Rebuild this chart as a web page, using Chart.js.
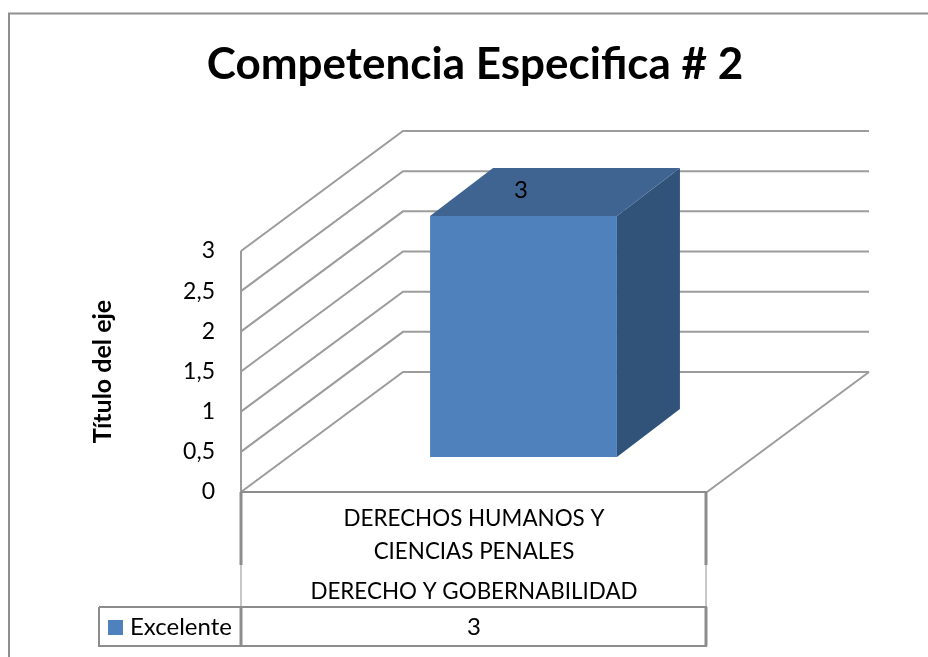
<!DOCTYPE html>
<html lang="es">
<head>
    <meta charset="UTF-8" />
    <title>Competencia Especifica # 2</title>
    <script src="https://cdn.jsdelivr.net/npm/chart.js"></script>
    <style>
        html, body { margin: 0; padding: 0; background: #fff; overflow: hidden; }
        #wrap { width: 928px; height: 657px; }
    </style>
</head>
<body>
<div id="wrap"><canvas id="chart" width="928" height="657"></canvas></div>
<script>
    // datos
    const chartTitle = 'Competencia Especifica # 2';
    const axisTitle = 'Título del eje';
    const categories = [['DERECHOS HUMANOS Y', 'CIENCIAS PENALES']];
    const groupLabels = ['DERECHO Y GOBERNABILIDAD'];
    const seriesName = 'Excelente';
    const excelente = [3];

    const FONT = 'Lato, Carlito, Calibri, sans-serif';
    const LINE = '#9c9c9c';
    const TABLE = '#8c8c8c';

    // profundidad del piso y de la barra en 3D
    const floorDepth = { x: 162, y: -120 };
    const barShift = { x: 49.5, y: -35 };
    const barDepth = { x: 63, y: -48 };

    function strokeLine(ctx, pts, color, width) {
        ctx.beginPath();
        pts.forEach((p, i) => i ? ctx.lineTo(p[0], p[1]) : ctx.moveTo(p[0], p[1]));
        ctx.strokeStyle = color;
        ctx.lineWidth = width;
        ctx.stroke();
    }

    function fillPoly(ctx, pts, color) {
        ctx.beginPath();
        pts.forEach((p, i) => i ? ctx.lineTo(p[0], p[1]) : ctx.moveTo(p[0], p[1]));
        ctx.closePath();
        ctx.fillStyle = color;
        ctx.fill();
    }

    const walls3d = {
        id: 'walls3d',
        beforeDraw(chart) {
            const { ctx, chartArea: a, scales: { y } } = chart;
            ctx.save();
            // marco exterior
            strokeLine(ctx, [[9, 657], [9, 13.5], [928, 13.5]], '#8f8f8f', 2);
            // paredes: cada linea sale de un tick del eje
            y.ticks.forEach(t => {
                const py = y.getPixelForValue(t.value);
                const bx = a.left + floorDepth.x, by = py + floorDepth.y;
                strokeLine(ctx, [[a.left, py], [bx, by], [a.right + floorDepth.x, by]], LINE, 2);
            });
            const y0 = y.getPixelForValue(0);
            strokeLine(ctx, [[a.left, y.getPixelForValue(y.max)], [a.left, y0]], LINE, 2);
            strokeLine(ctx, [[a.right, y0], [a.right + floorDepth.x, y0 + floorDepth.y]], LINE, 2);
            ctx.restore();
        },
        // la barra se dibuja por Chart.js, desplazada hacia el fondo
        beforeDatasetDraw(chart) {
            const { ctx } = chart;
            const bar = chart.getDatasetMeta(0).data[0];
            const l = bar.x - bar.width / 2 + barShift.x, r = bar.x + bar.width / 2 + barShift.x;
            const t = bar.y + barShift.y, b = bar.base + barShift.y;
            const d = barDepth;
            fillPoly(ctx, [[r, t], [r + d.x, t + d.y], [r + d.x, b + d.y], [r, b]], '#325379');
            fillPoly(ctx, [[l, t], [l + d.x, t + d.y], [r + d.x, t + d.y], [r, t]], '#3f6491');
            ctx.save();
            ctx.translate(barShift.x, barShift.y);
        },
        afterDatasetDraw(chart) {
            chart.ctx.restore();
        },
        afterDraw(chart) {
            const { ctx, chartArea: a, scales: { y } } = chart;
            const bar = chart.getDatasetMeta(0).data[0];
            const y0 = y.getPixelForValue(0);
            const rowTop = 607, rowBottom = 646, legendLeft = 99;
            ctx.save();
            // tabla de datos
            strokeLine(ctx, [[a.left, y0], [a.right, y0]], TABLE, 2);
            strokeLine(ctx, [[a.left, y0], [a.left, 565]], TABLE, 3);
            strokeLine(ctx, [[a.left, 565], [a.left, rowTop]], '#b5b5b5', 1.5);
            strokeLine(ctx, [[a.right - 1, y0], [a.right - 1, 565]], TABLE, 3);
            strokeLine(ctx, [[a.right - 1, 565], [a.right - 1, rowTop]], '#b5b5b5', 1.5);
            strokeLine(ctx, [[legendLeft, rowTop], [a.right, rowTop]], TABLE, 2);
            strokeLine(ctx, [[legendLeft, rowTop], [legendLeft, rowBottom], [a.right, rowBottom]], TABLE, 2);
            strokeLine(ctx, [[a.left, rowTop], [a.left, rowBottom]], TABLE, 3);
            strokeLine(ctx, [[a.right - 1, rowTop], [a.right - 1, rowBottom]], TABLE, 3);

            ctx.fillStyle = '#4f81bd';
            ctx.fillRect(108, 620, 15, 15);

            ctx.fillStyle = '#000';
            ctx.textBaseline = 'middle';
            ctx.font = '24px ' + FONT;
            ctx.textAlign = 'left';
            ctx.fillText(seriesName, 130, 627);
            ctx.textAlign = 'center';
            ctx.fillText(String(excelente[0]), bar.x, 627);
            // etiqueta de valor sobre la cara superior
            ctx.fillText(String(excelente[0]), bar.x + 47, bar.y - 61);
            ctx.font = '22.4px ' + FONT;
            ctx.fillText(groupLabels[0], bar.x, 592);
            // el titulo va centrado sobre el area del grafico, sin limite de ancho
            ctx.font = 'bold 44px ' + FONT;
            ctx.fillText(chartTitle, 475, 65);
            ctx.restore();
        }
    };

    new Chart(document.getElementById('chart'), {
        type: 'bar',
        data: {
            labels: categories,
            datasets: [{
                label: seriesName,
                data: excelente,
                backgroundColor: '#4f81bd',
                borderWidth: 0,
                barPercentage: 0.401,
                categoryPercentage: 1
            }]
        },
        options: {
            responsive: false,
            animation: false,
            layout: { padding: { left: 0, right: 221, top: 251, bottom: 0 } },
            plugins: {
                legend: { display: false },
                tooltip: { enabled: false },
                title: { display: false }
            },
            scales: {
                x: {
                    grid: { display: false },
                    border: { display: false },
                    ticks: {
                        color: '#000',
                        padding: 3,
                        maxRotation: 0,
                        font: { family: FONT, size: 22.4, lineHeight: 1.45 }
                    },
                    afterFit(s) { s.height = 165; }
                },
                y: {
                    min: 0,
                    max: 3,
                    grid: { display: false, drawTicks: false },
                    border: { display: false },
                    ticks: {
                        stepSize: 0.5,
                        color: '#000',
                        padding: 26,
                        font: { family: FONT, size: 23 },
                        callback: v => String(v).replace('.', ',')
                    },
                    title: {
                        display: true,
                        text: axisTitle,
                        color: '#000',
                        font: { family: FONT, size: 25, weight: 'bold', lineHeight: 1.2 },
                        padding: { top: 88, bottom: 0 }
                    },
                    afterFit(s) { s.width = 241; }
                }
            }
        },
        plugins: [walls3d]
    });
</script>
</body>
</html>
